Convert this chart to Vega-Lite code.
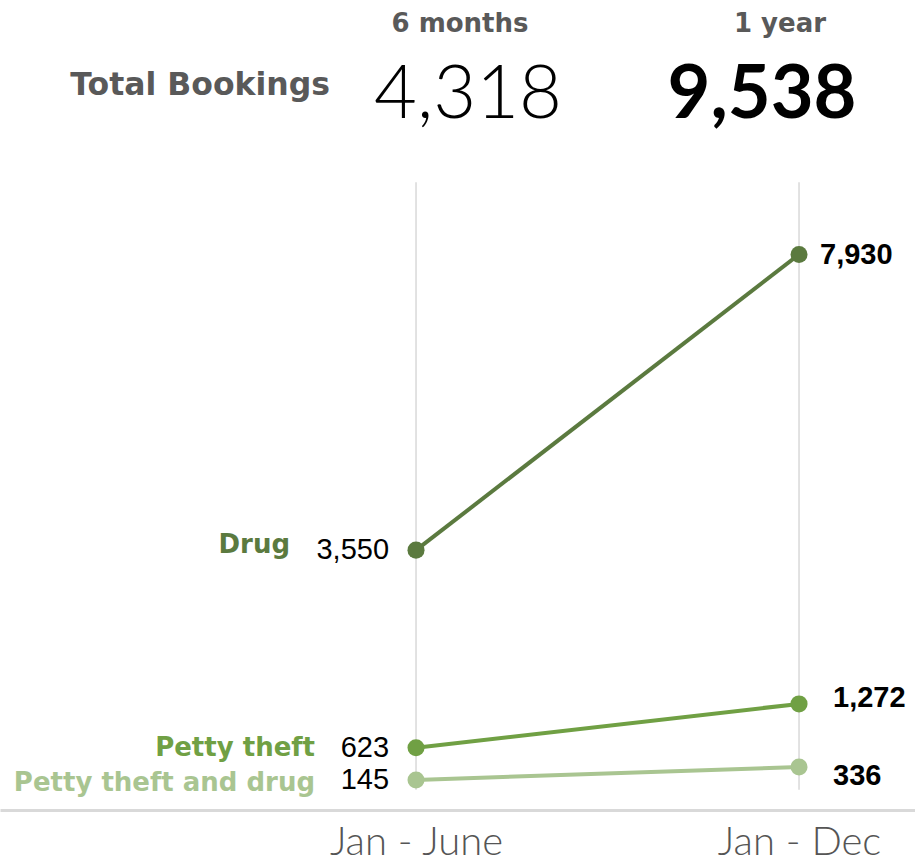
{
  "$schema": "https://vega.github.io/schema/vega-lite/v6.json",
  "width": 915,
  "height": 810,
  "autosize": {"type": "none"},
  "padding": {"left": 0, "top": 0, "right": 0, "bottom": 54},
  "config": {"view": {"stroke": null}},
  "datasets": {
    "bookings": [
      {"period": "Jan - June", "crime": "Drug", "count": 3550},
      {"period": "Jan - Dec", "crime": "Drug", "count": 7930},
      {"period": "Jan - June", "crime": "Petty theft", "count": 623},
      {"period": "Jan - Dec", "crime": "Petty theft", "count": 1272},
      {"period": "Jan - June", "crime": "Petty theft and drug", "count": 145},
      {"period": "Jan - Dec", "crime": "Petty theft and drug", "count": 336}
    ],
    "spans": [
      {"period": "Jan - June", "label": "6 months"},
      {"period": "Jan - Dec", "label": "1 year"}
    ]
  },
  "encoding": {
    "x": {
      "field": "period",
      "type": "nominal",
      "scale": {"type": "point", "domain": ["Jan - June", "Jan - Dec"], "padding": 0.6945, "align": 0.782},
      "axis": {
        "title": null,
        "orient": "bottom",
        "ticks": false,
        "grid": false,
        "domainColor": "#d9d9d9",
        "domainWidth": 3,
        "labelAngle": 0,
        "labelLimit": 400,
        "labelFont": "Lato",
        "labelFontWeight": 300,
        "labelFontSize": 40,
        "labelColor": "#555555",
        "labelPadding": 12,
        "labelDx": 11
      }
    }
  },
  "layer": [
    {
      "data": {"name": "spans"},
      "mark": {"type": "rule", "color": "#d9d9d9", "strokeWidth": 1.5},
      "encoding": {
        "y": {"datum": 0, "type": "quantitative", "scale": {"domain": [-300, 11700], "nice": false, "zero": false}, "axis": null},
        "y2": {"datum": 9000}
      }
    },
    {
      "data": {"name": "bookings"},
      "layer": [
        {
          "mark": {"type": "line", "strokeWidth": 4},
          "encoding": {
            "y": {"field": "count", "type": "quantitative"},
            "color": {
              "field": "crime",
              "type": "nominal",
              "scale": {"domain": ["Drug", "Petty theft", "Petty theft and drug"], "range": ["#5b7a3f", "#70a044", "#a9c591"]},
              "legend": null
            }
          }
        },
        {
          "mark": {"type": "point", "filled": true, "opacity": 1, "size": 290},
          "encoding": {
            "y": {"field": "count", "type": "quantitative"},
            "color": {"field": "crime", "type": "nominal", "legend": null}
          }
        },
        {
          "transform": [{"filter": "datum.period === 'Jan - June'"}],
          "mark": {
            "type": "text",
            "align": "right",
            "baseline": "middle",
            "font": "DejaVu Sans",
            "fontWeight": "bold",
            "fontSize": 26,
            "dx": {"expr": "datum.crime === 'Drug' ? -126 : -101"},
            "dy": {"expr": "datum.crime === 'Drug' ? -5 : datum.crime === 'Petty theft' ? 0 : 3"}
          },
          "encoding": {
            "y": {"field": "count", "type": "quantitative"},
            "text": {"field": "crime"},
            "color": {"field": "crime", "type": "nominal", "legend": null}
          }
        },
        {
          "transform": [{"filter": "datum.period === 'Jan - June'"}],
          "mark": {"type": "text", "align": "right", "baseline": "middle", "font": "Liberation Sans", "fontSize": 29, "dx": -27, "color": "#000000"},
          "encoding": {
            "y": {"field": "count", "type": "quantitative"},
            "text": {"field": "count", "type": "quantitative", "format": ","}
          }
        },
        {
          "transform": [{"filter": "datum.period === 'Jan - Dec'"}],
          "mark": {
            "type": "text",
            "align": "left",
            "baseline": "middle",
            "font": "Liberation Sans",
            "fontWeight": "bold",
            "fontSize": 29,
            "color": "#000000",
            "dx": {"expr": "datum.crime === 'Drug' ? 21 : 34"},
            "dy": {"expr": "datum.crime === 'Drug' ? 1 : datum.crime === 'Petty theft' ? -6 : 9"}
          },
          "encoding": {
            "y": {"field": "count", "type": "quantitative"},
            "text": {"field": "count", "type": "quantitative", "format": ","}
          }
        },
        {
          "transform": [
            {"aggregate": [{"op": "sum", "field": "count", "as": "total"}], "groupby": ["period"]},
            {"filter": "datum.period === 'Jan - June'"}
          ],
          "mark": {"type": "text", "align": "center", "baseline": "alphabetic", "font": "Lato", "fontWeight": 300, "fontSize": 74, "dx": 52, "color": "#000000"},
          "encoding": {
            "y": {"datum": 9952, "type": "quantitative"},
            "text": {"field": "total", "type": "quantitative", "format": ","}
          }
        },
        {
          "transform": [
            {"aggregate": [{"op": "sum", "field": "count", "as": "total"}], "groupby": ["period"]},
            {"filter": "datum.period === 'Jan - Dec'"}
          ],
          "mark": {"type": "text", "align": "center", "baseline": "alphabetic", "font": "Lato", "fontWeight": "bold", "fontSize": 74, "dx": -37, "color": "#000000"},
          "encoding": {
            "y": {"datum": 9952, "type": "quantitative"},
            "text": {"field": "total", "type": "quantitative", "format": ","}
          }
        },
        {
          "transform": [
            {"aggregate": [{"op": "count", "as": "n"}], "groupby": ["period"]},
            {"filter": "datum.period === 'Jan - June'"}
          ],
          "mark": {"type": "text", "align": "right", "baseline": "alphabetic", "font": "DejaVu Sans", "fontWeight": "bold", "fontSize": 31.5, "dx": -86, "color": "#595959"},
          "encoding": {
            "y": {"datum": 10293, "type": "quantitative"},
            "text": {"value": "Total Bookings"}
          }
        }
      ]
    },
    {
      "data": {"name": "spans"},
      "mark": {
        "type": "text",
        "align": "center",
        "baseline": "alphabetic",
        "font": "DejaVu Sans",
        "fontWeight": "bold",
        "fontSize": 26,
        "color": "#595959",
        "dx": {"expr": "datum.period === 'Jan - June' ? 44 : -19"}
      },
      "encoding": {
        "y": {"datum": 11226, "type": "quantitative"},
        "text": {"field": "label"}
      }
    }
  ]
}
